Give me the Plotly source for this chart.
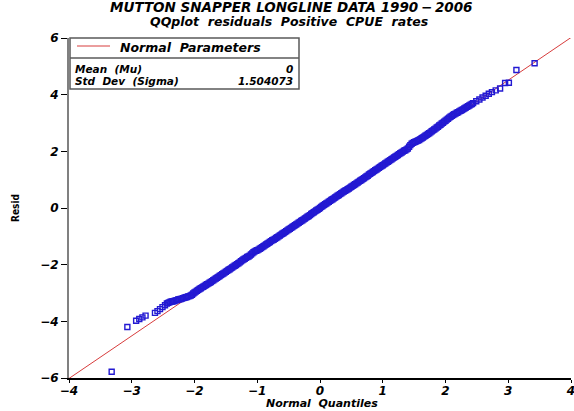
import plotly.graph_objects as go

# ---- data ----
theoretical_q = [
    # lower tail
    -3.32, -3.07, -2.93, -2.88, -2.83, -2.78, -2.63, -2.59, -2.55, -2.51, -2.47,
    -2.44, -2.42, -2.40, -2.38, -2.36, -2.34, -2.32, -2.30, -2.28, -2.26,
    -2.24, -2.22, -2.20, -2.18, -2.16, -2.14, -2.12, -2.10, -2.08, -2.06, -2.04, -2.02,
    # body
    -2.00, -1.98, -1.96, -1.94, -1.92, -1.90, -1.88, -1.86, -1.84, -1.82,
    -1.80, -1.78, -1.76, -1.74, -1.72, -1.70, -1.68, -1.66, -1.64, -1.62,
    -1.60, -1.58, -1.56, -1.54, -1.52, -1.50, -1.48, -1.46, -1.44, -1.42,
    -1.40, -1.38, -1.36, -1.34, -1.32, -1.30, -1.28, -1.26, -1.24, -1.22,
    -1.20, -1.18, -1.16, -1.14, -1.12, -1.10, -1.08, -1.06, -1.04, -1.02,
    -1.00, -0.98, -0.96, -0.94, -0.92, -0.90, -0.88, -0.86, -0.84, -0.82,
    -0.80, -0.78, -0.76, -0.74, -0.72, -0.70, -0.68, -0.66, -0.64, -0.62,
    -0.60, -0.58, -0.56, -0.54, -0.52, -0.50, -0.48, -0.46, -0.44, -0.42,
    -0.40, -0.38, -0.36, -0.34, -0.32, -0.30, -0.28, -0.26, -0.24, -0.22,
    -0.20, -0.18, -0.16, -0.14, -0.12, -0.10, -0.08, -0.06, -0.04, -0.02,
    0.00, 0.02, 0.04, 0.06, 0.08, 0.10, 0.12, 0.14, 0.16, 0.18,
    0.20, 0.22, 0.24, 0.26, 0.28, 0.30, 0.32, 0.34, 0.36, 0.38,
    0.40, 0.42, 0.44, 0.46, 0.48, 0.50, 0.52, 0.54, 0.56, 0.58,
    0.60, 0.62, 0.64, 0.66, 0.68, 0.70, 0.72, 0.74, 0.76, 0.78,
    0.80, 0.82, 0.84, 0.86, 0.88, 0.90, 0.92, 0.94, 0.96, 0.98,
    1.00, 1.02, 1.04, 1.06, 1.08, 1.10, 1.12, 1.14, 1.16, 1.18,
    1.20, 1.22, 1.24, 1.26, 1.28, 1.30, 1.32, 1.34, 1.36, 1.38,
    1.40, 1.42, 1.44, 1.46, 1.48, 1.50, 1.52, 1.54, 1.56, 1.58,
    1.60, 1.62, 1.64, 1.66, 1.68, 1.70, 1.72, 1.74, 1.76, 1.78,
    1.80, 1.82, 1.84, 1.86, 1.88, 1.90, 1.92, 1.94, 1.96, 1.98,
    2.00, 2.02, 2.04, 2.06, 2.08, 2.10, 2.12, 2.14, 2.16, 2.18,
    2.20, 2.22, 2.24, 2.26, 2.28, 2.30, 2.32, 2.34, 2.36, 2.38,
    2.40, 2.42, 2.44,
    # upper tail
    2.49, 2.54, 2.59, 2.64, 2.69, 2.74, 2.80, 2.87, 2.95, 3.01, 3.13, 3.42,
]
residuals = [
    # lower tail
    -5.78, -4.20, -3.98, -3.92, -3.86, -3.80, -3.70, -3.64, -3.57, -3.50, -3.43,
    -3.37, -3.35, -3.33, -3.31, -3.30, -3.29, -3.28, -3.26, -3.25, -3.23,
    -3.22, -3.21, -3.20, -3.18, -3.17, -3.15, -3.14, -3.12, -3.11, -3.09, -3.06, -3.02,
    # body
    -2.98, -2.95, -2.92, -2.89, -2.86, -2.83, -2.80, -2.78, -2.75, -2.72,
    -2.69, -2.67, -2.64, -2.61, -2.58, -2.55, -2.52, -2.49, -2.46, -2.43,
    -2.40, -2.37, -2.34, -2.31, -2.28, -2.25, -2.22, -2.19, -2.16, -2.13,
    -2.10, -2.07, -2.04, -2.01, -1.98, -1.95, -1.92, -1.88, -1.85, -1.82,
    -1.79, -1.76, -1.73, -1.71, -1.68, -1.64, -1.60, -1.56, -1.53, -1.51,
    -1.49, -1.47, -1.44, -1.41, -1.38, -1.35, -1.32, -1.29, -1.26, -1.23,
    -1.20, -1.17, -1.14, -1.12, -1.09, -1.06, -1.03, -1.00, -0.97, -0.94,
    -0.91, -0.88, -0.85, -0.82, -0.79, -0.76, -0.73, -0.70, -0.67, -0.64,
    -0.61, -0.58, -0.55, -0.52, -0.49, -0.46, -0.43, -0.40, -0.37, -0.34,
    -0.31, -0.28, -0.25, -0.21, -0.18, -0.15, -0.12, -0.09, -0.06, -0.03,
    0.00, 0.04, 0.07, 0.10, 0.13, 0.16, 0.19, 0.22, 0.25, 0.28,
    0.31, 0.34, 0.37, 0.40, 0.43, 0.46, 0.49, 0.52, 0.55, 0.58,
    0.61, 0.63, 0.66, 0.69, 0.72, 0.75, 0.78, 0.81, 0.84, 0.87,
    0.90, 0.93, 0.96, 0.99, 1.02, 1.05, 1.08, 1.11, 1.14, 1.18,
    1.21, 1.24, 1.27, 1.30, 1.33, 1.36, 1.39, 1.42, 1.45, 1.48,
    1.51, 1.54, 1.57, 1.60, 1.63, 1.66, 1.69, 1.72, 1.75, 1.78,
    1.81, 1.84, 1.87, 1.90, 1.93, 1.96, 1.99, 2.02, 2.04, 2.07,
    2.10, 2.16, 2.22, 2.27, 2.30, 2.32, 2.34, 2.36, 2.38, 2.40,
    2.43, 2.46, 2.49, 2.52, 2.55, 2.58, 2.61, 2.64, 2.67, 2.71,
    2.74, 2.77, 2.80, 2.84, 2.87, 2.91, 2.94, 2.98, 3.01, 3.05,
    3.08, 3.12, 3.15, 3.19, 3.22, 3.25, 3.28, 3.31, 3.33, 3.36,
    3.38, 3.41, 3.43, 3.46, 3.48, 3.51, 3.54, 3.57, 3.59, 3.62,
    3.65, 3.67, 3.70,
    # upper tail
    3.77, 3.83, 3.90, 3.96, 4.03, 4.09, 4.15, 4.22, 4.41, 4.42, 4.87, 5.11,
]
assert len(theoretical_q) == len(residuals)

mu = 0
sigma = 1.504073
line_q = [-4, 4]
x_ticks = [-4, -3, -2, -1, 0, 1, 2, 3, 4]
y_ticks = [-6, -4, -2, 0, 2, 4, 6]

FONT = "DejaVu Sans"
BLUE = "rgb(35,25,210)"
RED = "rgb(215,60,60)"

fig = go.Figure()
fig.add_trace(go.Scatter(
    x=line_q, y=[mu + sigma * q for q in line_q], mode="lines",
    line=dict(color=RED, width=1), hoverinfo="skip", showlegend=False))
fig.add_trace(go.Scatter(
    x=theoretical_q, y=residuals, mode="markers",
    marker=dict(symbol="square-open", size=5, color=BLUE, line=dict(width=1.4, color=BLUE)),
    showlegend=False))

def lab(v):
    return ("\u2212" + str(abs(v))) if v < 0 else str(v)

tickfont = dict(family=FONT, size=12, style="italic", weight="bold", color="black")
fig.update_layout(
    width=574, height=411,
    margin=dict(l=69, r=3, t=38, b=33, autoexpand=False),
    paper_bgcolor="white", plot_bgcolor="white",
    font=dict(family=FONT, color="black"),
    xaxis=dict(range=[-4, 4], tickvals=x_ticks, ticktext=[lab(v) for v in x_ticks],
               showgrid=False, zeroline=False, showline=True, linecolor="black", linewidth=1.5,
               ticks="outside", ticklen=3, tickcolor="black", tickfont=tickfont,
               ticklabelstandoff=-2, ticklabeloverflow="allow", automargin=False),
    yaxis=dict(range=[-6, 6], tickvals=y_ticks, ticktext=[lab(v) for v in y_ticks],
               showgrid=False, zeroline=False, showline=True, linecolor="gray", linewidth=2,
               ticks="outside", ticklen=6, tickcolor="black", tickfont=tickfont,
               automargin=False),
)

px = lambda v: (v - 69) / 502
py = lambda v: (378 - v) / 340

ann = [
    ("MUTTON SNAPPER LONGLINE DATA 1990\u2009\u2212\u20092006", 291, 7, 13.5),
    ("QQplot  residuals  Positive  CPUE  rates", 289, 21.5, 12.5),
    ("Normal  Quantiles", 322, 403, 11),
]
for t, xx, yy, s in ann:
    fig.add_annotation(text=t, xref="paper", yref="paper", x=px(xx), y=py(yy),
                       xanchor="center", yanchor="middle", showarrow=False, borderpad=0,
                       font=dict(family=FONT, size=s, style="italic", weight="bold"))
fig.add_annotation(text="Resid", xref="paper", yref="paper", x=px(15), y=py(208),
                   textangle=-90, xanchor="center", yanchor="middle", showarrow=False,
                   font=dict(family="DejaVu Sans Condensed, DejaVu Sans", size=10, weight="bold"))

# legend box
fig.add_shape(type="rect", xref="paper", yref="paper", x0=px(70), x1=px(299), y0=py(89), y1=py(38),
              line=dict(color="rgb(90,90,90)", width=1.5), fillcolor="white", layer="above")
fig.add_shape(type="line", xref="paper", yref="paper", x0=px(70), x1=px(299), y0=py(58), y1=py(58),
              line=dict(color="rgb(90,90,90)", width=1.5), layer="above")
fig.add_shape(type="line", xref="paper", yref="paper", x0=px(77), x1=px(110), y0=py(46), y1=py(46),
              line=dict(color=RED, width=1), layer="above")
leg = [
    ("Normal  Parameters", 119, 47, "left", 12.5),
    ("Mean  (Mu)", 74, 68.5, "left", 10.5),
    ("Std  Dev  (Sigma)", 74, 81, "left", 10.5),
    (str(mu), 294, 68.5, "right", 10.5),
    (f"{sigma:.6f}", 294, 81, "right", 10.5),
]
for t, xx, yy, anc, s in leg:
    fig.add_annotation(text=t, xref="paper", yref="paper", x=px(xx), y=py(yy),
                       xanchor=anc, yanchor="middle", showarrow=False, borderpad=0,
                       font=dict(family=FONT, size=s, style="italic", weight="bold"))

fig.write_html("out.html", config={"displayModeBar": False},
               post_script="document.body.style.margin='0';")
